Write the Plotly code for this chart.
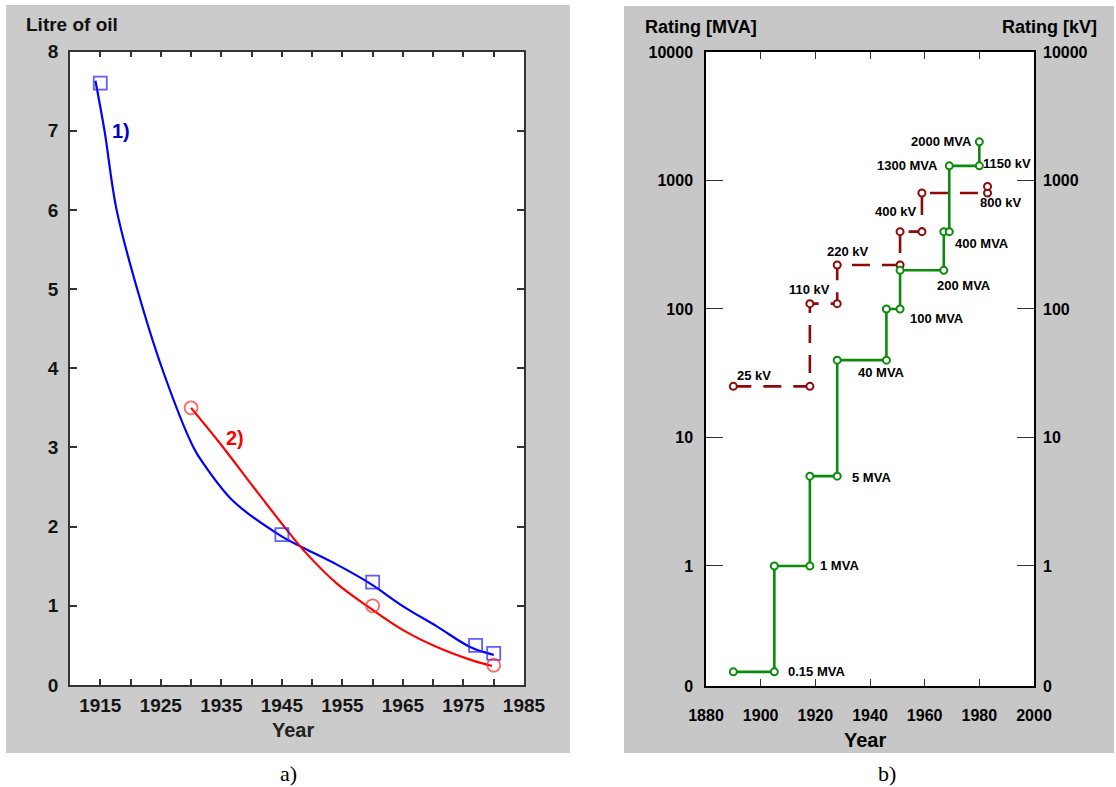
import math
import plotly.graph_objects as go

W, H = 1116, 787

# ---------------- Data: panel a) ----------------
oil_years_1 = [1915, 1945, 1960, 1977, 1980]
oil_litre_1 = [7.6, 1.9, 1.3, 0.5, 0.4]
oil_years_2 = [1930, 1960, 1980]
oil_litre_2 = [3.5, 1.0, 0.25]

# fitted curves
fit_years_1 = [1914.2, 1915.7, 1917.7, 1921.1, 1925.2, 1930.4, 1932.2,
               1937.0, 1944.7, 1948.6, 1954.1, 1959.6, 1965.1, 1970.6, 1976.1, 1980.0]
fit_litre_1 = [7.63, 7.0, 6.0, 5.0, 4.0, 3.0, 2.78,
               2.32, 1.89, 1.73, 1.52, 1.28, 0.99, 0.74, 0.48, 0.38]
fit_years_2 = [1930, 1934.8, 1940.3, 1945.8, 1948.6, 1954.1, 1959.6, 1965.1, 1970.6, 1976.1, 1979.7]
fit_litre_2 = [3.5, 3.05, 2.50, 1.96, 1.70, 1.28, 0.97, 0.69, 0.48, 0.32, 0.24]

oil_xticks = list(range(1915, 1986, 5))
oil_xticktext = [str(v) if (v - 1915) % 10 == 0 else "" for v in oil_xticks]

# ---------------- Data: panel b) ----------------
mva_years = [1890, 1905, 1905, 1918, 1918, 1928, 1928, 1946, 1946, 1951, 1951,
             1967, 1967, 1969, 1969, 1980, 1980]
mva_values = [0.15, 0.15, 1, 1, 5, 5, 40, 40, 100, 100, 200,
              200, 400, 400, 1300, 1300, 2000]
kv_years = [1890, 1918, 1918, 1928, 1928, 1951, 1951, 1959, 1959, 1983, 1983]
kv_values = [25, 25, 110, 110, 220, 220, 400, 400, 800, 800, 900]

rating_bottom = 10 ** -0.934
rating_tickvals = [rating_bottom, 1, 10, 100, 1000, 10000]
rating_ticktext = ["0", "1", "10", "100", "1000", "10000"]

# label text, anchor year, anchor value, xanchor
rating_labels = [
    ("0.15 MVA", 1909.6, 0.15, "left"),
    ("1 MVA", 1921.3, 1.0, "left"),
    ("5 MVA", 1933.0, 4.84, "left"),
    ("40 MVA", 1935.2, 32.3, "left"),
    ("100 MVA", 1954.3, 83.6, "left"),
    ("200 MVA", 1964.1, 151, "left"),
    ("400 MVA", 1970.7, 326, "left"),
    ("1300 MVA", 1965.2, 1297, "right"),
    ("2000 MVA", 1977.7, 2028, "right"),
    ("1150 kV", 1981.0, 1368, "left"),
    ("800 kV", 1979.9, 680, "left"),
    ("400 kV", 1941.5, 569, "left"),
    ("220 kV", 1923.9, 278, "left"),
    ("110 kV", 1910.0, 143, "left"),
    ("25 kV", 1891.0, 30.6, "left"),
]


def px(x):
    return x / W


def py(y):
    return 1 - y / H


fig = go.Figure()

# ---- panel a traces ----
fig.add_trace(go.Scatter(x=fit_years_1, y=fit_litre_1, mode="lines", line=dict(color="#0000ff", width=2.2, shape="spline", smoothing=1.0),
                         xaxis="x", yaxis="y", showlegend=False, hoverinfo="skip"))
fig.add_trace(go.Scatter(x=fit_years_2, y=fit_litre_2, mode="lines", line=dict(color="#ff0000", width=2.2, shape="spline", smoothing=1.0),
                         xaxis="x", yaxis="y", showlegend=False, hoverinfo="skip"))
fig.add_trace(go.Scatter(x=oil_years_1, y=oil_litre_1, mode="markers",
                         marker=dict(symbol="square-open", size=13, color="rgba(40,40,255,0.75)", line=dict(width=1.8)),
                         xaxis="x", yaxis="y", showlegend=False))
fig.add_trace(go.Scatter(x=oil_years_2, y=oil_litre_2, mode="markers",
                         marker=dict(symbol="circle-open", size=13, color="rgba(255,40,40,0.7)", line=dict(width=1.8)),
                         xaxis="x", yaxis="y", showlegend=False))

# ---- panel b traces ----
fig.add_trace(go.Scatter(x=kv_years, y=kv_values, mode="lines+markers",
                         line=dict(color="#8c0a0a", width=2.6, dash="18px,12px"),
                         marker=dict(symbol="circle", size=7, color="white", line=dict(color="#8c0a0a", width=2)),
                         xaxis="x2", yaxis="y2", showlegend=False))
fig.add_trace(go.Scatter(x=mva_years, y=mva_values, mode="lines+markers",
                         line=dict(color="#0c8a0c", width=2.6),
                         marker=dict(symbol="circle", size=7, color="white", line=dict(color="#0c8a0c", width=2)),
                         xaxis="x2", yaxis="y2", showlegend=False))
# invisible trace so the right-hand kV axis is drawn
fig.add_trace(go.Scatter(x=[1880], y=[1], mode="markers", marker=dict(opacity=0),
                         xaxis="x2", yaxis="y3", showlegend=False, hoverinfo="skip"))

# ---- background panels ----
shapes = [
    dict(type="rect", xref="paper", yref="paper", x0=px(6), x1=px(570), y0=py(753), y1=py(5),
         fillcolor="#cbcbcb", line=dict(width=0), layer="below"),
    dict(type="rect", xref="paper", yref="paper", x0=px(624), x1=px(1114), y0=py(753), y1=py(6),
         fillcolor="#c7c7c7", line=dict(width=0), layer="below"),
    dict(type="rect", xref="paper", yref="paper", x0=px(70), x1=px(524), y0=py(685), y1=py(51.5),
         fillcolor="white", line=dict(width=0), layer="below"),
    dict(type="rect", xref="paper", yref="paper", x0=px(706), x1=px(1034), y0=py(686), y1=py(52),
         fillcolor="white", line=dict(width=0), layer="below"),
]

SANS = "Liberation Sans, Arial, sans-serif"
left_tick = dict(family=SANS, size=19, color="#151515", weight="bold")
arialb = dict(family=SANS, size=16, color="black", weight="bold")

annotations = [
    dict(text="Litre of oil", x=px(24), y=py(25), xref="paper", yref="paper", xanchor="left", yanchor="middle",
         showarrow=False, font=dict(family=SANS, size=19, color="#111", weight="bold")),
    dict(text="Year", x=px(293), y=py(730), xref="paper", yref="paper", xanchor="center", yanchor="middle",
         showarrow=False, font=dict(family=SANS, size=20, color="#222", weight="bold")),
    dict(text="1)", x=1918.5, y=7.0, xref="x", yref="y", showarrow=False,
         font=dict(family=SANS, size=20, color="#0000cc", weight="bold")),
    dict(text="2)", x=1937.3, y=3.12, xref="x", yref="y", showarrow=False,
         font=dict(family=SANS, size=20, color="#ff0000", weight="bold")),
    dict(text="a)", x=px(289), y=py(773), xref="paper", yref="paper", xanchor="center", yanchor="middle",
         showarrow=False, font=dict(family="Liberation Serif, serif", size=22, color="black")),
    dict(text="Rating [MVA]", x=px(643), y=py(27), xref="paper", yref="paper", xanchor="left", yanchor="middle",
         showarrow=False, font=dict(family=SANS, size=18, color="black", weight="bold")),
    dict(text="Rating [kV]", x=px(1099), y=py(27), xref="paper", yref="paper", xanchor="right", yanchor="middle",
         showarrow=False, font=dict(family=SANS, size=18, color="black", weight="bold")),
    dict(text="Year", x=px(865), y=py(740), xref="paper", yref="paper", xanchor="center", yanchor="middle",
         showarrow=False, font=dict(family=SANS, size=20, color="black", weight="bold")),
    dict(text="b)", x=px(887), y=py(773), xref="paper", yref="paper", xanchor="center", yanchor="middle",
         showarrow=False, font=dict(family="Liberation Serif, serif", size=22, color="black")),
]
for text, yr, val, xa in rating_labels:
    annotations.append(dict(text=text, x=yr, y=math.log10(val), xref="x2", yref="y2", xanchor=xa, yanchor="middle",
                            showarrow=False, borderpad=0,
                            font=dict(family=SANS, size=13, color="black", weight="bold")))

common = dict(showgrid=False, zeroline=False, automargin=False)

fig.update_layout(
    width=W, height=H, margin=dict(l=0, r=0, t=0, b=0, pad=0, autoexpand=False),
    paper_bgcolor="white", plot_bgcolor="rgba(0,0,0,0)",
    shapes=shapes, annotations=annotations,
    xaxis=dict(domain=[px(70), px(524)], range=[1910, 1985], tickmode="array", tickvals=oil_xticks, ticktext=oil_xticktext,
               ticks="inside", ticklen=6, tickwidth=1.5, tickcolor="#333", showline=True, linecolor="#333", linewidth=1.5,
               mirror="ticks", tickfont=left_tick, ticklabelstandoff=2, anchor="y", **common),
    yaxis=dict(domain=[py(685), py(51.5)], range=[0, 8], tickmode="array", tickvals=list(range(0, 9)),
               ticks="inside", ticklen=7, tickwidth=1.5, tickcolor="#333", showline=True, linecolor="#333", linewidth=1.5,
               mirror="ticks", tickfont=left_tick, ticklabelstandoff=6, anchor="x", **common),
    xaxis2=dict(domain=[px(706), px(1034)], range=[1880, 2000], tickmode="array", tickvals=list(range(1880, 2001, 20)),
                ticks="inside", ticklen=7, tickwidth=1.2, tickcolor="#333", showline=True, linecolor="black", linewidth=1.5,
                mirror="ticks", tickfont=arialb, ticklabelstandoff=14, anchor="y2", **common),
    yaxis2=dict(domain=[py(686), py(52)], type="log", range=[-0.934, 4], tickmode="array",
                tickvals=rating_tickvals, ticktext=rating_ticktext,
                ticks="inside", ticklen=17, tickwidth=1.2, tickcolor="#333", showline=True, linecolor="black", linewidth=1.5,
                mirror="ticks", tickfont=arialb, ticklabelstandoff=8, anchor="x2", **common),
    yaxis3=dict(overlaying="y2", side="right", type="log", range=[-0.934, 4], tickmode="array",
                tickvals=rating_tickvals, ticktext=rating_ticktext, ticks="", showline=False,
                tickfont=arialb, ticklabelstandoff=8, anchor="x2", **common),
)

fig.write_html("out.html")
